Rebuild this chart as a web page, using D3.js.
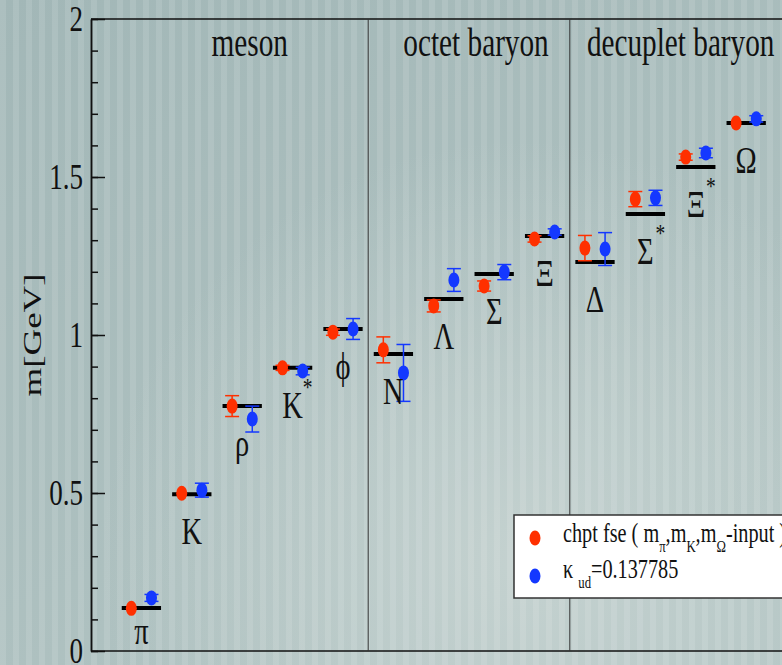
<!DOCTYPE html>
<html>
<head>
<meta charset="utf-8">
<script src="https://cdn.jsdelivr.net/npm/d3@7"></script>
<style>
  html, body { margin: 0; padding: 0; background: #a9bdbd; }
  svg { display: block; }
  text { font-family: "Liberation Serif", "Times New Roman", "DejaVu Serif", serif; fill: #111; }
</style>
</head>
<body>
<div id="chart-area"></div>
<script>
// hadron names, in plotting order
const particles = ["π", "K", "ρ", "K", "ϕ", "N", "Λ", "Σ", "Ξ", "Δ", "Σ", "Ξ", "Ω"];
const starred   = [false, false, false, true, false, false, false, false, false, false, true, true, false];

// experimental masses (black bars), GeV
const expMass = [0.136, 0.496, 0.775, 0.896, 1.019, 0.940, 1.114, 1.193, 1.313, 1.231, 1.383, 1.532, 1.671];

// chpt fse (m_pi, m_K, m_Omega input) - red
const chptMass = [0.135, 0.499, 0.775, 0.896, 1.009, 0.953, 1.092, 1.155, 1.304, 1.275, 1.430, 1.563, 1.671];
const chptErr  = [0, 0, 0.033, 0.008, 0.010, 0.041, 0.019, 0.016, 0.010, 0.040, 0.024, 0.010, 0];

// kappa_ud = 0.137785 - blue
const kappaMass = [0.168, 0.509, 0.734, 0.886, 1.019, 0.880, 1.174, 1.199, 1.326, 1.272, 1.434, 1.576, 1.684];
const kappaErr  = [0.011, 0.022, 0.041, 0.012, 0.033, 0.090, 0.036, 0.024, 0.010, 0.052, 0.024, 0.015, 0.010];

const sectionNames = ["meson", "octet baryon", "decuplet baryon"];
const sectionBreaks = [5.5, 9.5];

const yTicksMajor = [0, 0.5, 1, 1.5, 2];
const yTickLabels = ["0", "0.5", "1", "1.5", "2"];

const chart = {
  totalWidth: 782,
  totalHeight: 665,
  left: 91,
  top: 19,
  bottom: 651,
  squeeze: 0.75,
  red: "#ff3000",
  blue: "#1438ff",
  font: "'Liberation Serif', 'Times New Roman', 'DejaVu Serif', serif",

  setup: function() {
    this.svg = d3.select("#chart-area").append("svg")
      .attr("width", this.totalWidth)
      .attr("height", this.totalHeight)
      .attr("font-family", this.font);

    this.x = d3.scaleLinear().domain([0, 14]).range([this.left, this.left + 14 * 50.4]);
    this.y = d3.scaleLinear().domain([0, 2]).range([this.bottom, this.top]);
  },

  // text squeezed horizontally like the original
  label: function(g, x, y, size, anchor, str) {
    return g.append("text")
      .attr("transform", "translate(" + x + "," + y + ") scale(" + this.squeeze + ",1)")
      .attr("font-family", this.font)
      .attr("font-size", size + "px")
      .attr("text-anchor", anchor)
      .text(str);
  },

  background: function() {
    const defs = this.svg.append("defs");

    const lin = defs.append("linearGradient").attr("id", "bgLin")
      .attr("x1", 0).attr("y1", 0).attr("x2", 0.6).attr("y2", 1);
    lin.append("stop").attr("offset", "0%").attr("stop-color", "#a2b7b7");
    lin.append("stop").attr("offset", "100%").attr("stop-color", "#b2c4c3");

    const rad = defs.append("radialGradient").attr("id", "bgGlow")
      .attr("gradientUnits", "userSpaceOnUse")
      .attr("cx", 520).attr("cy", 560).attr("r", 420);
    rad.append("stop").attr("offset", "0%").attr("stop-color", "#c6d3d1").attr("stop-opacity", 0.9);
    rad.append("stop").attr("offset", "100%").attr("stop-color", "#c6d3d1").attr("stop-opacity", 0);

    const pat = defs.append("pattern").attr("id", "stripes")
      .attr("patternUnits", "userSpaceOnUse")
      .attr("width", 13).attr("height", 10);
    pat.append("rect").attr("x", 0).attr("width", 6).attr("height", 10)
      .attr("fill", "#ffffff").attr("opacity", 0.11);

    this.svg.append("rect").attr("width", this.totalWidth).attr("height", this.totalHeight).attr("fill", "url(#bgLin)");
    this.svg.append("rect").attr("width", this.totalWidth).attr("height", this.totalHeight).attr("fill", "url(#bgGlow)");
    this.svg.append("rect").attr("width", this.totalWidth).attr("height", this.totalHeight).attr("fill", "url(#stripes)");
  },

  frame: function() {
    const g = this.svg.append("g");
    const right = this.totalWidth + 5;

    g.append("line")
      .attr("x1", this.left).attr("x2", right)
      .attr("y1", this.top).attr("y2", this.top)
      .attr("stroke", "#111").attr("stroke-width", 1.5);
    g.append("line")
      .attr("x1", this.left).attr("x2", right)
      .attr("y1", this.bottom).attr("y2", this.bottom)
      .attr("stroke", "#111").attr("stroke-width", 1.5);

    sectionBreaks.forEach(b => {
      g.append("line")
        .attr("x1", this.x(b)).attr("x2", this.x(b))
        .attr("y1", this.top).attr("y2", this.bottom)
        .attr("stroke", "#333").attr("stroke-width", 1);
    });

    // minor ticks
    const minor = d3.axisLeft(this.y)
      .tickValues(d3.range(0, 21).map(i => i / 10))
      .tickSize(-7).tickSizeOuter(0).tickFormat("");
    g.append("g").attr("transform", "translate(" + this.left + ",0)").call(minor)
      .call(a => a.selectAll("line,path").attr("stroke", "#111").attr("stroke-width", 1.5));

    // major ticks
    const major = d3.axisLeft(this.y)
      .tickValues(yTicksMajor)
      .tickSize(-14).tickSizeOuter(0).tickFormat("");
    g.append("g").attr("transform", "translate(" + this.left + ",0)").call(major)
      .call(a => a.selectAll("line,path").attr("stroke", "#111").attr("stroke-width", 1.5));

    yTicksMajor.forEach((v, i) => {
      this.label(g, 83, this.y(v) + 12, 36, "end", yTickLabels[i]);
    });

    g.append("text")
      .attr("transform", "translate(32,335) scale(0.7,1) rotate(-90)")
      .attr("font-family", this.font)
      .attr("font-size", "37px")
      .attr("text-anchor", "middle")
      .attr("dy", "0.33em")
      .text("m[GeV]");

    const titleX = [3.15, 7.64, 11.7];
    sectionNames.forEach((s, i) => {
      this.label(g, this.x(titleX[i]), 56, 39, "middle", s);
    });
  },

  marks: function() {
    const g = this.svg.append("g");
    const idx = d3.range(particles.length);

    // experiment bars
    g.selectAll("line.exp").data(idx).join("line")
      .attr("class", "exp")
      .attr("x1", i => this.x(i + 1 - 0.39))
      .attr("x2", i => this.x(i + 1 + 0.39))
      .attr("y1", i => this.y(expMass[i]))
      .attr("y2", i => this.y(expMass[i]))
      .attr("stroke", "#000").attr("stroke-width", 4);

    const series = [
      { mass: chptMass,  err: chptErr,  off: -0.2, color: this.red },
      { mass: kappaMass, err: kappaErr, off:  0.2, color: this.blue }
    ];

    series.forEach(s => {
      const sg = g.append("g");
      const withErr = idx.filter(i => s.err[i] > 0);

      sg.selectAll("line.bar").data(withErr).join("line")
        .attr("x1", i => this.x(i + 1 + s.off)).attr("x2", i => this.x(i + 1 + s.off))
        .attr("y1", i => this.y(s.mass[i] - s.err[i])).attr("y2", i => this.y(s.mass[i] + s.err[i]))
        .attr("stroke", s.color).attr("stroke-width", 1.5);

      [-1, 1].forEach(sign => {
        sg.selectAll("line.cap" + sign).data(withErr).join("line")
          .attr("x1", i => this.x(i + 1 + s.off) - 7).attr("x2", i => this.x(i + 1 + s.off) + 7)
          .attr("y1", i => this.y(s.mass[i] + sign * s.err[i]))
          .attr("y2", i => this.y(s.mass[i] + sign * s.err[i]))
          .attr("stroke", s.color).attr("stroke-width", 1.5);
      });

      sg.selectAll("ellipse").data(idx).join("ellipse")
        .attr("cx", i => this.x(i + 1 + s.off))
        .attr("cy", i => this.y(s.mass[i]))
        .attr("rx", 5.5).attr("ry", 7.5)
        .attr("fill", s.color);
    });

    // particle names under each bar
    idx.forEach(i => {
      const cx = this.x(i + 1);
      const base = Math.min(this.y(expMass[i]) + 50, this.bottom - 7);
      this.label(g, cx, base, 38, "middle", particles[i]);
      if (starred[i]) {
        this.label(g, cx + 15, base - 22, 26, "middle", "*");
      }
    });
  },

  legend: function() {
    const g = this.svg.append("g");
    g.append("rect")
      .attr("x", 514).attr("y", 515)
      .attr("width", 300).attr("height", 83)
      .attr("fill", "#fff").attr("stroke", "#333").attr("stroke-width", 1.5);

    g.append("ellipse").attr("cx", 535).attr("cy", 538).attr("rx", 5.5).attr("ry", 7.5).attr("fill", this.red);
    g.append("ellipse").attr("cx", 535).attr("cy", 576).attr("rx", 5.5).attr("ry", 7.5).attr("fill", this.blue);

    const t1 = this.label(g, 563, 542, 27, "start", "");
    t1.append("tspan").text("chpt fse ( m");
    t1.append("tspan").attr("dy", 10).attr("font-size", "17px").text("π");
    t1.append("tspan").attr("dy", -10).text(",m");
    t1.append("tspan").attr("dy", 10).attr("font-size", "17px").text("K");
    t1.append("tspan").attr("dy", -10).text(",m");
    t1.append("tspan").attr("dy", 10).attr("font-size", "17px").text("Ω");
    t1.append("tspan").attr("dy", -10).text("-input )");

    const t2 = this.label(g, 563, 578, 27, "start", "");
    t2.append("tspan").text("κ ");
    t2.append("tspan").attr("dy", 10).attr("font-size", "17px").text("ud");
    t2.append("tspan").attr("dy", -10).text("=0.137785");
  },

  start: function() {
    this.setup();
    this.background();
    this.frame();
    this.marks();
    this.legend();
  }
};

chart.start();
</script>
</body>
</html>
